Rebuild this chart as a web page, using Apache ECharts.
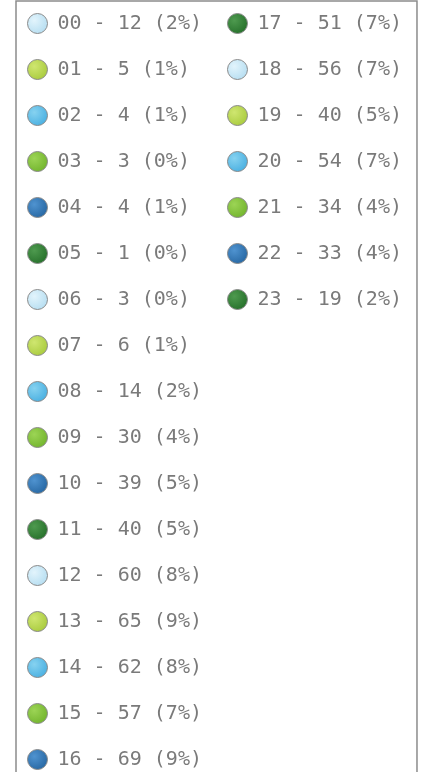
<!DOCTYPE html>
<html>
<head>
<meta charset="utf-8">
<script src="https://cdn.jsdelivr.net/npm/echarts@6/dist/echarts.min.js"></script>
<style>
  html, body { margin: 0; padding: 0; background: #fff; }
  #chart { width: 421px; height: 772px; }
</style>
</head>
<body>
<div id="chart"></div>
<script>
// 分类与数值
const categories = ['00', '01', '02', '03', '04', '05', '06', '07', '08', '09', '10', '11',
  '12', '13', '14', '15', '16', '17', '18', '19', '20', '21', '22', '23']
const counts = [12, 5, 4, 3, 4, 1, 3, 6, 14, 30, 39, 40,
  60, 65, 62, 57, 69, 51, 56, 40, 54, 34, 33, 19]
// 颜色循环 (浅色, 深色)
const palette = [
  ['#e2f4fc', '#b3dcf0'],
  ['#cfe670', '#a6c93a'],
  ['#86d2f0', '#45ade0'],
  ['#9cd455', '#6fb22a'],
  ['#4f93d0', '#24649f'],
  ['#4e9a4f', '#236d28']
]

const total = counts.reduce((a, b) => a + b, 0)

function grad(c) {
  return {
    type: 'radial', x: 0.35, y: 0.35, r: 0.75,
    colorStops: [{ offset: 0, color: c[0] }, { offset: 1, color: c[1] }]
  }
}

const pieData = categories.map((name, i) => ({
  name: name,
  value: counts[i],
  itemStyle: { color: grad(palette[i % palette.length]) }
}))

const chart = echarts.init(document.getElementById('chart'))
chart.setOption({
  animation: false,
  legend: {
    type: 'plain',
    orient: 'vertical',
    left: 16,
    top: 1,
    height: 790,
    padding: [12, 15, 12, 11],
    itemWidth: 20,
    itemHeight: 20,
    itemGap: 25,
    icon: 'circle',
    borderColor: '#8c8c8c',
    borderWidth: 1.5,
    itemStyle: { borderColor: '#8a8a8a', borderWidth: 1 },
    textStyle: {
      fontFamily: 'DejaVu Sans Mono',
      fontSize: 20,
      color: '#7a7a7a',
      padding: [0, 0, 0, 5]
    },
    formatter: function (name) {
      const i = categories.indexOf(name)
      return name + ' - ' + counts[i] + ' (' + Math.round(counts[i] / total * 100) + '%)'
    }
  },
  series: [{
    type: 'pie',
    center: [-2000, -2000],
    radius: 10,
    label: { show: false },
    data: pieData
  }]
})
</script>
</body>
</html>
